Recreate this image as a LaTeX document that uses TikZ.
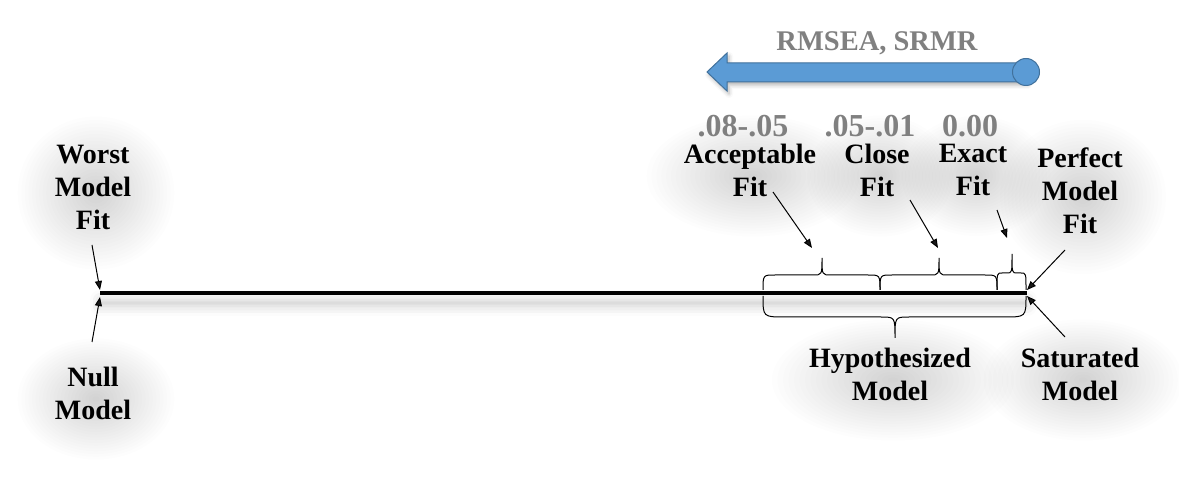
\documentclass[tikz,border=0pt]{standalone}
\usepackage{fontspec}
\setmainfont{Liberation Serif}
\usetikzlibrary{arrows.meta,shadows.blur,backgrounds,calc}
\definecolor{txtgray}{HTML}{808080}
\definecolor{arrowblue}{HTML}{5B9BD5}
\definecolor{arrowedge}{HTML}{41719C}
\tikzset{
  lbl/.style={inner sep=0pt,align=center,font=\fontsize{28}{33}\selectfont\bfseries},
  glbl/.style={inner sep=0pt,align=center,font=\fontsize{32}{36}\selectfont\bfseries,text=txtgray},
  ptr/.style={line width=1pt,-{Triangle[length=9pt,width=7pt]}},
  wbr/.style={line width=1pt},
  glowfill/.style={fill=black,fill opacity=0.009},
}
% x0, x1, xm, base, mid, tip, corner, tipw
\newcommand\wordbrace[8]{%
  \draw[wbr] (#1,#4) .. controls (#1,#5) .. ({#1+#7},#5) -- ({#3-#8},#5)
    .. controls (#3,#5) .. (#3,#6) .. controls (#3,#5) .. ({#3+#8},#5)
    -- ({#2-#7},#5) .. controls (#2,#5) .. (#2,#4);}
\newcommand\glowof[1]{%
  \foreach \k in {1,...,22}{%
    \path[glowfill] let \p1=($(#1.north east)-(#1.south west)$) in
      ($(#1.center)+(3,6)$) ellipse [x radius={(\x1/2+40)*\k/22}, y radius={(\y1/2+34)*\k/22}];}}
\begin{document}
\begin{tikzpicture}[x=1pt,y=-1pt]
\useasboundingbox (0,0) rectangle (1179,478);
% blue arrow
\filldraw[fill=arrowblue,draw=arrowedge,line width=1pt,blur shadow={shadow xshift=2pt,shadow yshift=-3pt,shadow opacity=30,shadow blur radius=4pt}]
  (707,72) -- (727,53) -- (727,63) -- (1026,63) -- (1026,82) -- (727,82) -- (727,91) -- cycle;
\filldraw[fill=arrowblue,draw=arrowedge,line width=1pt] (1026,72) circle[radius=13.5];
\node[glbl,font=\fontsize{28.5}{33}\selectfont\bfseries] (rmsea) at (877,43) {RMSEA, SRMR};
% scale line
\coordinate (L) at (100,293);
\coordinate (R) at (1027,293);
\path[blur shadow={shadow xshift=0pt,shadow yshift=-10pt,shadow opacity=20,shadow blur radius=10pt}] (100,290) rectangle (1027,296);
\draw[line width=4pt] (L) -- (R);
% braces
\wordbrace{763}{880}{822}{290}{275}{258}{12}{9}
\wordbrace{880}{997}{939}{290}{275}{258}{12}{9}
\wordbrace{997}{1026}{1012}{290}{273}{254}{5}{5}
\wordbrace{763}{1026}{895}{296}{317}{338}{22}{14}
% labels
\node[lbl] (worst) at (93,187) {Worst\\Model\\Fit};
\node[lbl] (null) at (93,393) {Null\\Model};
\node[lbl] (accept) at (750,170) {Acceptable\\Fit};
\node[lbl] (close) at (877,170) {Close\\Fit};
\node[lbl] (exact) at (973,170) {Exact\\Fit};
\node[lbl] (perfect) at (1080,191) {Perfect\\Model\\Fit};
\node[lbl] (hyp) at (890,374) {Hypothesized\\Model};
\node[lbl] (sat) at (1080,374) {Saturated\\Model};
\node[glbl] (n1) at (743,126) {.08-.05};
\node[glbl] (n2) at (870,126) {.05-.01};
\node[glbl] (n3) at (970,126) {0.00};
\begin{pgfonlayer}{background}
\glowof{worst}\glowof{null}\glowof{accept}\glowof{close}\glowof{exact}
\glowof{perfect}\glowof{hyp}\glowof{sat}
\end{pgfonlayer}
% arrow endpoints
\coordinate (wS) at (92,245);
\coordinate (wE) at (100,290);
\coordinate (nS) at (92,342);
\coordinate (nE) at (100,297);
\coordinate (aS) at (773,192);
\coordinate (aE) at (812,248);
\coordinate (cS) at (910,200);
\coordinate (cE) at (938,248);
\coordinate (eS) at (997,210);
\coordinate (eE) at (1007,238);
\coordinate (pS) at (1065,250);
\coordinate (pE) at (1027,290);
\coordinate (sS) at (1065,337);
\coordinate (sE) at (1027,296);
\draw[ptr] (wS) -- (wE);
\draw[ptr] (nS) -- (nE);
\draw[ptr] (aS) -- (aE);
\draw[ptr] (cS) -- (cE);
\draw[ptr] (eS) -- (eE);
\draw[ptr] (pS) -- (pE);
\draw[ptr] (sS) -- (sE);
\end{tikzpicture}
\end{document}
